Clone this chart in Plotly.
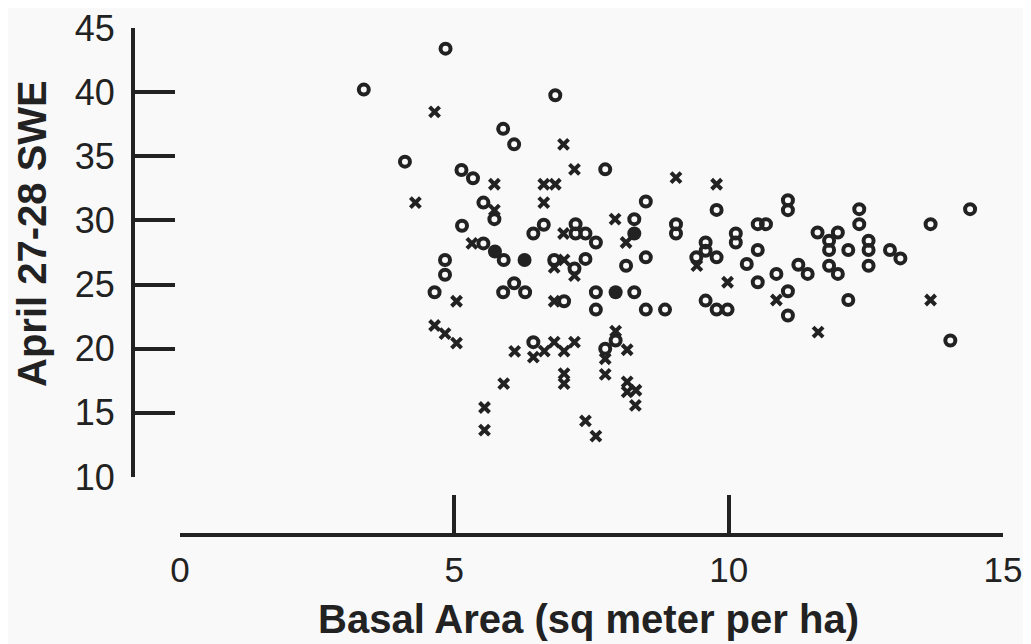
import plotly.graph_objects as go

# Open circles
circ_x = [4.84, 3.35, 6.84, 5.89, 6.09, 4.10, 5.13, 5.34, 5.53, 5.73, 5.14, 6.63, 6.44, 7.21, 7.21,
          7.39, 7.58, 5.53, 5.90, 4.83, 4.83, 6.82, 7.19, 7.39, 4.64, 5.89, 6.09, 6.29, 7.00, 6.44,
          7.75, 8.49, 9.78, 8.28, 9.04, 9.04, 9.58, 9.58, 10.13, 10.13, 8.49, 9.41, 9.78, 8.13,
          7.58, 7.58, 8.28, 8.49, 8.84, 9.58, 9.78, 9.98, 7.94, 7.75, 11.08, 11.08, 12.38, 12.38,
          14.40, 13.68, 10.53, 10.68, 10.53, 10.33, 10.53, 10.87, 11.08, 11.08, 11.27, 11.44, 11.62,
          11.99, 11.83, 11.83, 12.18, 11.83, 11.99, 12.18, 12.55, 12.55, 12.55, 12.94, 13.13, 14.04]
circ_y = [43.39, 40.20, 39.76, 37.14, 35.93, 34.58, 33.93, 33.29, 31.39, 30.10, 29.58, 29.66, 28.98, 29.71, 28.98,
          28.98, 28.28, 28.21, 26.92, 26.92, 25.77, 26.92, 26.25, 27.00, 24.40, 24.40, 25.10, 24.40, 23.70, 20.51,
          33.98, 31.47, 30.82, 30.10, 29.71, 28.98, 28.28, 27.64, 28.98, 28.28, 27.12, 27.12, 27.12, 26.47,
          24.40, 23.05, 24.40, 23.05, 23.05, 23.75, 23.05, 23.05, 20.64, 20.00, 31.58, 30.80, 30.88, 29.71,
          30.88, 29.71, 29.71, 29.71, 27.69, 26.60, 25.18, 25.83, 24.48, 22.59, 26.55, 25.83, 29.06,
          29.06, 28.42, 27.69, 27.69, 26.47, 25.83, 23.80, 28.42, 27.69, 26.47, 27.69, 27.04, 20.64]

# Crosses
cross_x = [4.64, 6.99, 7.19, 5.73, 6.63, 6.84, 4.29, 6.63, 5.73, 6.99, 5.32, 7.00, 6.82, 7.19, 5.04,
           6.82, 4.64, 4.83, 5.04, 6.10, 6.44, 6.64, 6.82, 7.00, 7.19, 7.00, 7.00, 5.90, 5.55, 5.55,
           7.39, 7.58, 9.04, 9.78, 7.93, 8.13, 9.42, 9.98, 7.94, 7.75, 8.15, 7.75, 8.15, 8.15, 8.31,
           8.30, 10.87, 11.63, 13.68]
cross_y = [38.46, 35.93, 33.98, 32.82, 32.82, 32.82, 31.39, 31.39, 30.80, 28.98, 28.21, 26.92, 26.34, 25.70, 23.70,
           23.70, 21.81, 21.17, 20.44, 19.79, 19.35, 19.81, 20.51, 19.81, 20.51, 18.06, 17.28, 17.28, 15.42, 13.65,
           14.37, 13.19, 33.33, 32.82, 30.10, 28.28, 26.47, 25.18, 21.37, 19.22, 19.92, 18.00, 17.41, 16.63, 16.76,
           15.59, 23.80, 21.29, 23.80]

# Filled circles
fill_x = [5.74, 6.28, 8.28, 7.94]
fill_y = [27.58, 26.92, 28.98, 24.40]

x_ticks = [0, 5, 10, 15]
y_ticks = [10, 15, 20, 25, 30, 35, 40, 45]

INK = "#222222"
BG = "#f9f9f9"
FONT = "Liberation Sans, Arial, Helvetica, sans-serif"

fig = go.Figure()
fig.add_trace(go.Scatter(x=circ_x, y=circ_y, mode="markers", cliponaxis=False,
                         marker=dict(symbol="circle-open", size=10, color=INK, line=dict(width=4, color=INK))))
fig.add_trace(go.Scatter(x=cross_x, y=cross_y, mode="markers", cliponaxis=False,
                         marker=dict(symbol="x-thin-open", size=10, color=INK, line=dict(width=4, color=INK))))
fig.add_trace(go.Scatter(x=fill_x, y=fill_y, mode="markers", cliponaxis=False,
                         marker=dict(symbol="circle", size=14, color=INK, line=dict(width=0))))

# page has an 8px body margin: figure is drawn 8px right/down
W, H = 1023, 636
ml, mr, mt, mb = 125, 28, 20, 109
pw = W - ml - mr
ph = H - mt - mb

fig.update_layout(
    width=W, height=H, autosize=False,
    margin=dict(l=ml, r=mr, t=mt, b=mb, pad=0, autoexpand=False),
    paper_bgcolor=BG, plot_bgcolor=BG,
    showlegend=False,
    font=dict(family=FONT, color=INK, size=36),
    xaxis=dict(range=[0, 15], domain=[(172 - ml) / pw, 1], anchor="free", position=0,
               tickmode="array", tickvals=x_ticks, ticktext=[str(v) for v in x_ticks],
               ticks="inside", ticklen=38, tickwidth=4, tickcolor=INK, automargin=False,
               showline=True, linewidth=4, linecolor=INK, showgrid=False, zeroline=False,
               ticklabeloverflow="allow",
               ticklabelstandoff=3, tickfont=dict(size=35, family=FONT, color=INK)),
    yaxis=dict(range=[10, 45], domain=[(527 - 469) / ph, 1], anchor="free", position=0,
               tickmode="array", tickvals=y_ticks, ticktext=[str(v) for v in y_ticks],
               ticks="inside", ticklen=40, tickwidth=4, tickcolor=INK, automargin=False,
               showline=True, linewidth=4, linecolor=INK, showgrid=False, zeroline=False,
               ticklabeloverflow="allow",
               ticklabelstandoff=9, tickfont=dict(size=36, family=FONT, color=INK)),
    annotations=[
        dict(text="<b>Basal Area (sq meter per ha)</b>", xref="paper", yref="paper",
             x=(580 - ml) / pw, y=(H - 611 - mb) / ph, xanchor="center", yanchor="middle",
             showarrow=False, font=dict(size=40, family=FONT, color=INK)),
        dict(text="<b>April 27-28 SWE</b>", xref="paper", yref="paper",
             x=(24 - ml) / pw, y=(H - 226 - mb) / ph, xanchor="center", yanchor="middle",
             textangle=-90, showarrow=False, font=dict(size=40, family=FONT, color=INK)),
    ],
)

fig.write_html("out.html")
